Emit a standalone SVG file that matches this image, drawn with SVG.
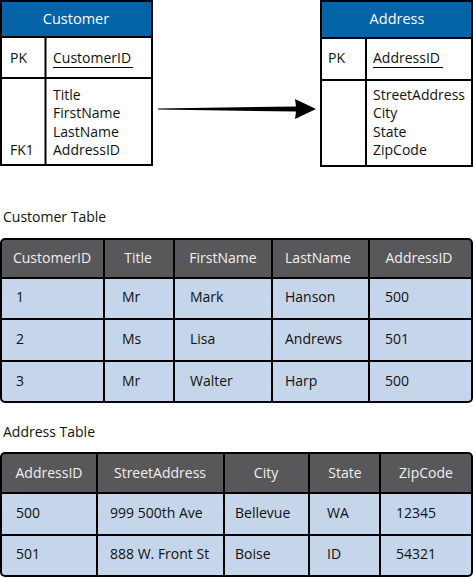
<svg xmlns="http://www.w3.org/2000/svg" width="473" height="578" viewBox="0 0 473 578">
<style>
text{font-family:"Open Sans","Noto Sans","Liberation Sans",sans-serif;font-size:14px;font-weight:500;fill:#111}
.hd{fill:#ffffff;text-anchor:middle;font-size:14.5px}
.th{fill:#f0f0f0;text-anchor:middle}
.box{fill:#fff;stroke:#000;stroke-width:2}
.bl{fill:#0563a8}
.ln{stroke:#000;stroke-width:2;fill:none}
.row{fill:#c5d5ea}
.hdr{fill:#58585a}
</style>
<g id="customer-entity">
<rect class="box" x="1" y="1" width="151" height="164"/>
<rect class="bl" x="2" y="2" width="149" height="35"/>
<line class="ln" x1="1" y1="37" x2="152" y2="37"/>
<line class="ln" x1="1" y1="78" x2="152" y2="78"/>
<line class="ln" x1="45.5" y1="37" x2="45.5" y2="165"/>
<text class="hd" x="76" y="24">Customer</text>
<text x="10" y="63">PK</text>
<text x="53" y="63">CustomerID</text>
<line x1="53" y1="67.5" x2="133" y2="67.5" stroke="#000" stroke-width="1"/>
<text x="53" y="100">Title</text>
<text x="53" y="118">FirstName</text>
<text x="53" y="137">LastName</text>
<text x="53" y="155">AddressID</text>
<text x="10" y="155">FK1</text>
</g>
<g id="address-entity">
<rect class="box" x="321" y="1" width="151" height="165"/>
<rect class="bl" x="322" y="2" width="149" height="36"/>
<line class="ln" x1="321" y1="38" x2="472" y2="38"/>
<line class="ln" x1="321" y1="80" x2="472" y2="80"/>
<line class="ln" x1="366" y1="38" x2="366" y2="166"/>
<text class="hd" x="397" y="24">Address</text>
<text x="328" y="63">PK</text>
<text x="373" y="63">AddressID</text>
<line x1="373" y1="67.5" x2="443" y2="67.5" stroke="#000" stroke-width="1"/>
<text x="373" y="100">StreetAddress</text>
<text x="373" y="118">City</text>
<text x="373" y="137">State</text>
<text x="373" y="155">ZipCode</text>
</g>
<g id="connectors">
<path d="M158,108.5 L296,106.5 L295,99 L316,109 L295,119 L296,111.5 L158,109.5 Z" fill="#000"/>
</g>
<g id="customer-table">
<text x="3" y="222">Customer Table</text>
<rect class="row" x="1" y="239" width="471" height="163" rx="4"/>
<path class="hdr" d="M1,278 V243 Q1,239 5,239 H468 Q472,239 472,243 V278 Z"/>
<line class="ln" x1="1" y1="278" x2="472" y2="278"/>
<line class="ln" x1="1" y1="319" x2="472" y2="319"/>
<line class="ln" x1="1" y1="361" x2="472" y2="361"/>
<line class="ln" x1="104" y1="239" x2="104" y2="402"/>
<line class="ln" x1="174" y1="239" x2="174" y2="402"/>
<line class="ln" x1="272" y1="239" x2="272" y2="402"/>
<line class="ln" x1="369" y1="239" x2="369" y2="402"/>
<rect x="1" y="239" width="471" height="163" rx="4" fill="none" stroke="#000" stroke-width="2"/>
<text class="th" x="52" y="263">CustomerID</text>
<text class="th" x="138" y="263">Title</text>
<text class="th" x="223" y="263">FirstName</text>
<text class="th" x="318" y="263">LastName</text>
<text class="th" x="419" y="263">AddressID</text>
<text x="16" y="302">1</text><text x="122" y="302">Mr</text><text x="190" y="302">Mark</text><text x="285" y="302">Hanson</text><text x="385" y="302">500</text>
<text x="16" y="344">2</text><text x="122" y="344">Ms</text><text x="190" y="344">Lisa</text><text x="285" y="344">Andrews</text><text x="385" y="344">501</text>
<text x="16" y="386">3</text><text x="122" y="386">Mr</text><text x="190" y="386">Walter</text><text x="285" y="386">Harp</text><text x="385" y="386">500</text>
</g>
<g id="address-table">
<text x="3" y="437">Address Table</text>
<rect class="row" x="1" y="453" width="471" height="123" rx="4"/>
<path class="hdr" d="M1,493 V457 Q1,453 5,453 H468 Q472,453 472,457 V493 Z"/>
<line class="ln" x1="1" y1="493" x2="472" y2="493"/>
<line class="ln" x1="1" y1="535" x2="472" y2="535"/>
<line class="ln" x1="97" y1="453" x2="97" y2="576"/>
<line class="ln" x1="224" y1="453" x2="224" y2="576"/>
<line class="ln" x1="309" y1="453" x2="309" y2="576"/>
<line class="ln" x1="380" y1="453" x2="380" y2="576"/>
<rect x="1" y="453" width="471" height="123" rx="4" fill="none" stroke="#000" stroke-width="2"/>
<text class="th" x="49" y="478">AddressID</text>
<text class="th" x="160" y="478">StreetAddress</text>
<text class="th" x="266" y="478">City</text>
<text class="th" x="345" y="478">State</text>
<text class="th" x="426" y="478">ZipCode</text>
<text x="16" y="518">500</text><text x="110" y="518">999 500th Ave</text><text x="235" y="518">Bellevue</text><text x="327" y="518">WA</text><text x="396" y="518">12345</text>
<text x="16" y="559">501</text><text x="110" y="559">888 W. Front St</text><text x="235" y="559">Boise</text><text x="327" y="559">ID</text><text x="396" y="559">54321</text>
</g>
</svg>
